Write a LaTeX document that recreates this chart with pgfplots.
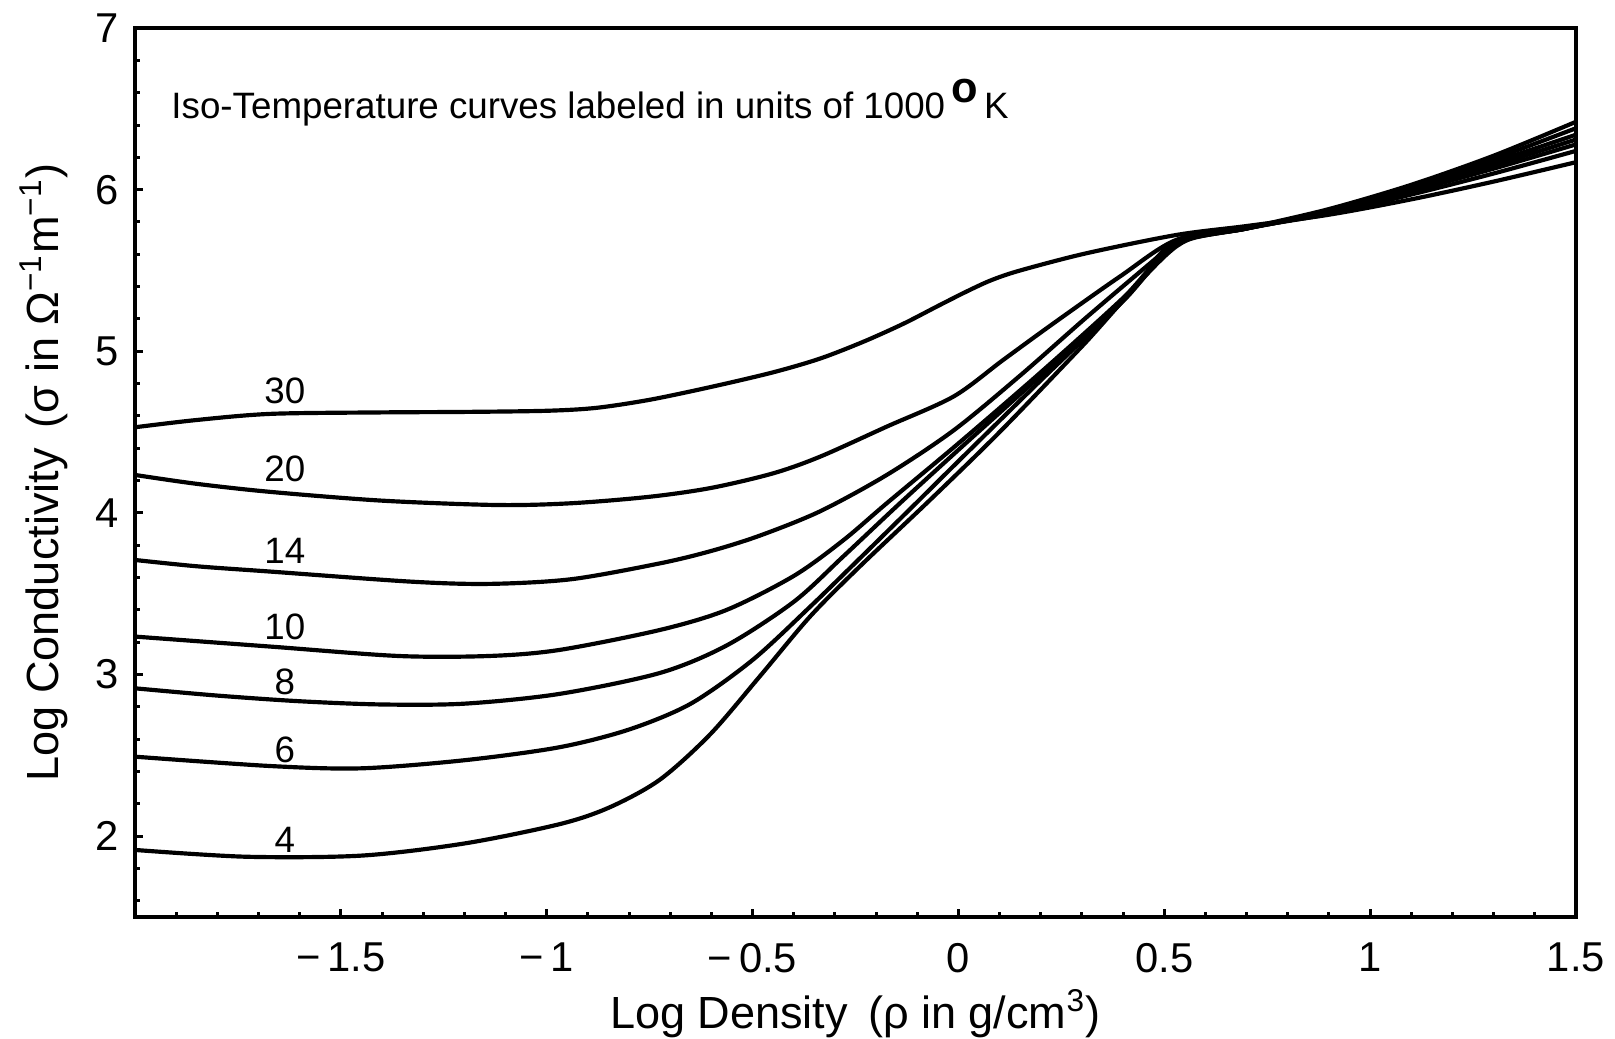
\documentclass[border=0pt]{standalone}
\usepackage{fontspec}
\setmainfont{Liberation Sans}
\usepackage{pgfplots}
\pgfplotsset{compat=1.18}
\pgfplotsset{iso/.style={black, solid, line width=1.25pt, smooth, tension=0.5, no marks}}
\begin{document}
\begin{tikzpicture}
\useasboundingbox (-1.421,-1.274) rectangle (15.579,9.653);
\begin{axis}[
    at={(0,0)}, anchor=south west,
    width=15.168cm, height=9.358cm, scale only axis,
    xmin=-2, xmax=1.5, ymin=1.5, ymax=7,
    xtick={-2,-1.5,-1,-0.5,0,0.5,1,1.5},
    xticklabels={,−\,1.5,−\,1,−\,0.5,0,0.5,1,1.5},
    ytick={2,3,4,5,6,7},
    yticklabels={2,3,4,5,6,7},
    minor xtick={-1.9,-1.8,...,1.45},
    minor ytick={1.6,1.8,...,6.9},
    tick pos=left, tick align=inside,
    major tick length=0.085cm, minor tick length=0.055cm,
    every tick/.style={black, line width=0.9pt},
    axis line style={line width=1.2pt},
    ticklabel style={font=\fontsize{12.5}{14}\selectfont},
    xticklabel style={yshift=-0.15cm},
    yticklabel style={xshift=-0.05cm},
    every axis x label/.style={at={(axis description cs:0.5,0)}, yshift=-1.02cm, anchor=center},
    every axis y label/.style={at={(axis description cs:0,0.5)}, xshift=-0.96cm, rotate=90, anchor=center},
    label style={font=\fontsize{13.5}{15}\selectfont},
    xlabel={Log Density\, (ρ in g/cm\textsuperscript{3})},
    ylabel={Log Conductivity\, (σ in Ω\textsuperscript{−1}m\textsuperscript{−1})},
]
% T = 30 (x1000 K)
\addplot[iso] coordinates {(-2.0,4.53)(-1.85,4.575)(-1.67,4.613)(-1.4,4.622)(-1.2,4.625)(-1.0,4.632)(-0.88,4.65)(-0.75,4.70)(-0.6,4.78)(-0.45,4.87)(-0.336,4.955)(-0.23,5.06)(-0.134,5.17)(-0.05,5.28)(0.02,5.37)(0.08,5.44)(0.15,5.50)(0.31,5.606)(0.53,5.72)(0.7,5.775)(0.9,5.845)(1.1,5.94)(1.3,6.05)(1.5,6.17)};
% T = 20
\addplot[iso] coordinates {(-2.0,4.235)(-1.85,4.18)(-1.67,4.13)(-1.4,4.076)(-1.12,4.049)(-0.94,4.06)(-0.75,4.10)(-0.6,4.155)(-0.45,4.245)(-0.336,4.348)(-0.174,4.534)(-0.012,4.72)(0.109,4.947)(0.231,5.173)(0.392,5.462)(0.53,5.69)(0.7,5.765)(0.9,5.85)(1.1,5.97)(1.3,6.10)(1.5,6.24)};
% T = 14
\addplot[iso] coordinates {(-2.0,3.709)(-1.85,3.67)(-1.67,3.637)(-1.33,3.575)(-1.14,3.561)(-0.94,3.59)(-0.725,3.688)(-0.6,3.765)(-0.482,3.86)(-0.336,4.01)(-0.174,4.235)(-0.012,4.51)(0.15,4.85)(0.311,5.21)(0.473,5.56)(0.53,5.68)(0.7,5.76)(0.9,5.86)(1.1,5.99)(1.3,6.13)(1.5,6.28)};
% T = 10
\addplot[iso] coordinates {(-2.0,3.235)(-1.67,3.173)(-1.36,3.115)(-1.14,3.115)(-0.97,3.152)(-0.725,3.276)(-0.563,3.40)(-0.40,3.61)(-0.28,3.83)(-0.174,4.06)(0.0,4.43)(0.2,4.87)(0.4,5.33)(0.53,5.67)(0.7,5.76)(0.9,5.86)(1.1,6.00)(1.3,6.15)(1.5,6.31)};
% T = 8
\addplot[iso] coordinates {(-2.0,2.915)(-1.8,2.87)(-1.6,2.835)(-1.4,2.815)(-1.2,2.82)(-0.97,2.88)(-0.725,3.01)(-0.563,3.18)(-0.40,3.45)(-0.28,3.73)(-0.142,4.06)(0.0,4.39)(0.2,4.85)(0.4,5.32)(0.53,5.665)(0.7,5.76)(0.9,5.87)(1.1,6.01)(1.3,6.17)(1.5,6.34)};
% T = 6
\addplot[iso] coordinates {(-2.0,2.492)(-1.67,2.434)(-1.45,2.42)(-1.2,2.47)(-0.97,2.55)(-0.8,2.66)(-0.65,2.82)(-0.5,3.09)(-0.36,3.42)(-0.239,3.72)(-0.115,4.03)(0.0,4.32)(0.2,4.82)(0.4,5.31)(0.53,5.66)(0.7,5.76)(0.9,5.87)(1.1,6.02)(1.3,6.19)(1.5,6.38)};
% T = 4
\addplot[iso] coordinates {(-2.0,1.915)(-1.73,1.873)(-1.45,1.88)(-1.2,1.955)(-0.968,2.075)(-0.846,2.18)(-0.725,2.35)(-0.603,2.63)(-0.482,2.99)(-0.36,3.36)(-0.239,3.67)(-0.069,4.08)(0.1,4.50)(0.3,5.03)(0.53,5.65)(0.7,5.76)(0.9,5.88)(1.1,6.03)(1.3,6.21)(1.5,6.42)};

\node[anchor=west, font=\fontsize{11}{13}\selectfont] at (axis cs:-1.94,6.537)
    {Iso-Temperature curves labeled in units of 1000\,\raisebox{0.85ex}{\fontsize{13}{13}\selectfont\bfseries o}\,K};
\begin{scope}[every node/.style={font=\fontsize{11}{13}\selectfont}]
\node at (axis cs:-1.636,4.755) {30};
\node at (axis cs:-1.636,4.275) {20};
\node at (axis cs:-1.636,3.765) {14};
\node at (axis cs:-1.636,3.294) {10};
\node at (axis cs:-1.636,2.955) {8};
\node at (axis cs:-1.636,2.535) {6};
\node at (axis cs:-1.636,1.98) {4};
\end{scope}
\end{axis}
\end{tikzpicture}
\end{document}
